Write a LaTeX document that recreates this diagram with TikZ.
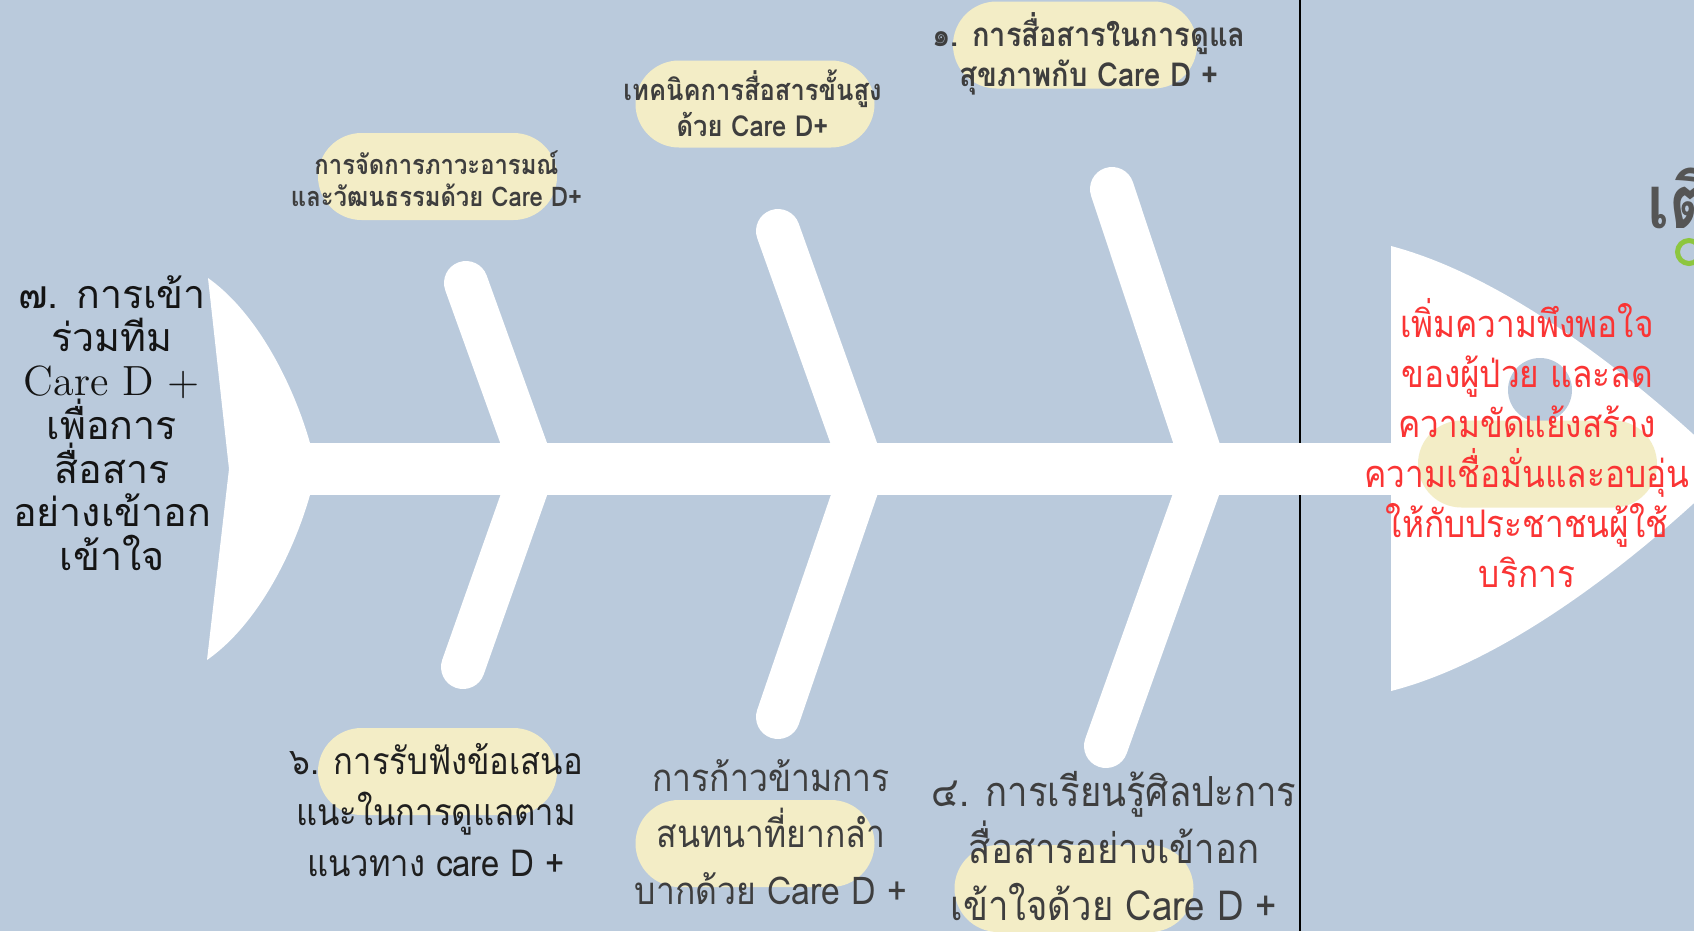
\documentclass[tikz,border=0pt]{standalone}
\usepackage{fontspec}
\newfontfamily\thaifont[Script=Thai, FakeStretch=0.88]{Loma}
\newfontfamily\thaiwide[Script=Thai]{Loma}
\definecolor{fishbg}{RGB}{186,202,220}
\definecolor{pillyellow}{RGB}{243,237,198}
\definecolor{labelgray}{RGB}{62,62,62}
\definecolor{goalred}{RGB}{250,52,52}
\definecolor{leafgreen}{RGB}{141,198,63}
\definecolor{titlegray}{RGB}{85,85,85}

\begin{document}
\begin{tikzpicture}
  \tikzset{bone/.style={white, line width=0.44cm, line cap=round}}
  \tikzset{pill/.style={fill=pillyellow, rounded corners=0.435cm, minimum width=2.39cm, minimum height=0.87cm, inner sep=0pt}}
  \tikzset{toplabel/.style={align=center, text=labelgray, inner sep=0pt}}
  \tikzset{botlabel/.style={align=center, text=labelgray, inner sep=0pt}}

  \clip (0,0) rectangle (16.94,9.31);
  \fill[fishbg] (0,0) rectangle (16.94,9.31);

  % highlight pills behind the labels
  \node[pill] (pill1) at (4.375,7.545) {};
  \node[pill] (pill2) at (7.55,8.27) {};
  \node[pill, minimum width=2.44cm] (pill3) at (10.75,8.86) {};
  \node[pill] (pill6) at (4.375,1.595) {};
  \node[pill] (pill5) at (7.55,0.875) {};
  \node[pill] (pill4) at (10.74,0.425) {};

  % divider
  \draw[black, line width=0.6pt] (13.00,0) -- (13.00,9.31);

  % spine and tail
  \coordinate (tailjoin) at (2.90,4.62);
  \coordinate (headjoin) at (14.00,4.62);
  \draw[white, line width=0.52cm] (tailjoin) -- (headjoin);
  \fill[white] (2.08,6.53) .. controls (2.60,6.16) and (2.95,5.41) .. (3.10,4.88)
    -- (3.10,4.36) .. controls (2.95,3.83) and (2.60,3.08) .. (2.07,2.71)
    -- (2.29,4.62) -- cycle;

  % bones
  \coordinate (j1) at (5.33,4.62);
  \coordinate (j2) at (8.63,4.62);
  \coordinate (j3) at (12.05,4.62);
  \coordinate (t1) at (4.66,6.48);
  \coordinate (t2) at (7.78,7.00);
  \coordinate (t3) at (11.12,7.42);
  \coordinate (b1) at (4.63,2.64);
  \coordinate (b2) at (7.78,2.14);
  \coordinate (b3) at (11.06,1.85);
  \draw[bone] (t1) -- (j1) -- (b1);
  \draw[bone] (t2) -- (j2) -- (b2);
  \draw[bone] (t3) -- (j3) -- (b3);

  % head
  \fill[white] (13.91,6.85) .. controls (15.20,6.51) and (16.60,5.31) .. (17.30,4.62)
    .. controls (16.60,3.93) and (15.20,2.73) .. (13.91,2.40) -- cycle;
  \fill[fishbg] (15.40,5.41) circle (0.32);
  \node[pill] (pillhead) at (15.375,4.67) {};

  % labels
  \node[toplabel, font=\thaifont\bfseries\fontsize{7.7}{9}\selectfont] (cause1) at (4.365,7.52)
    {การจัดการภาวะอารมณ์\\และวัฒนธรรมด้วย Care D+};
  \node[toplabel, font=\thaifont\bfseries\fontsize{8.25}{10.2}\selectfont] (cause2) at (7.525,8.28)
    {เทคนิคการสื่อสารขั้นสูง\\ด้วย Care D+};
  \node[toplabel, font=\thaifont\bfseries\fontsize{9.4}{11.5}\selectfont] (cause3) at (10.89,8.77)
    {๑. การสื่อสารในการดูแล\\สุขภาพกับ Care D +};
  \node[botlabel, text=black!88, font=\thaifont\fontsize{10.6}{14.6}\selectfont] (cause6) at (4.36,1.21)
    {๖. การรับฟังข้อเสนอ\\แนะในการดูแลตาม\\แนวทาง care D +};
  \node[botlabel, font=\thaifont\fontsize{10.9}{16.1}\selectfont] (cause5) at (7.71,0.99)
    {การก้าวข้ามการ\\สนทนาที่ยากลำ\\บากด้วย Care D +};
  \node[botlabel, font=\thaifont\fontsize{11.8}{16.1}\selectfont] (cause4) at (11.14,0.85)
    {๔. การเรียนรู้ศิลปะการ\\สื่อสารอย่างเข้าอก\\เข้าใจด้วย Care D +};
  \node[align=center, text=black!92, inner sep=0pt, font=\thaiwide\fontsize{11.2}{12.45}\selectfont] (cause7) at (1.12,5.08)
    {๗. การเข้า\\ร่วมทีม\\{\rmfamily\fontsize{12}{12.45}\selectfont Care D +}\\เพื่อการ\\สื่อสาร\\อย่างเข้าอก\\เข้าใจ};
  \node[align=center, text=goalred, inner sep=0pt, font=\thaifont\fontsize{10.8}{14.2}\selectfont] (goal) at (15.27,4.88)
    {เพิ่มความพึงพอใจ\\ของผู้ป่วย และลด\\ความขัดแย้งสร้าง\\ความเชื่อมั่นและอบอุ่น\\ให้กับประชาชนผู้ใช้\\บริการ};

  % cut-off title at the right edge
  \node[anchor=west, inner sep=0pt, text=titlegray, font=\thaifont\bfseries\fontsize{21}{21}\selectfont] (title) at (16.47,7.33) {เติ};
  \draw[leafgreen, line width=0.05cm] (16.89,6.79) circle (0.115);
\end{tikzpicture}
\end{document}
